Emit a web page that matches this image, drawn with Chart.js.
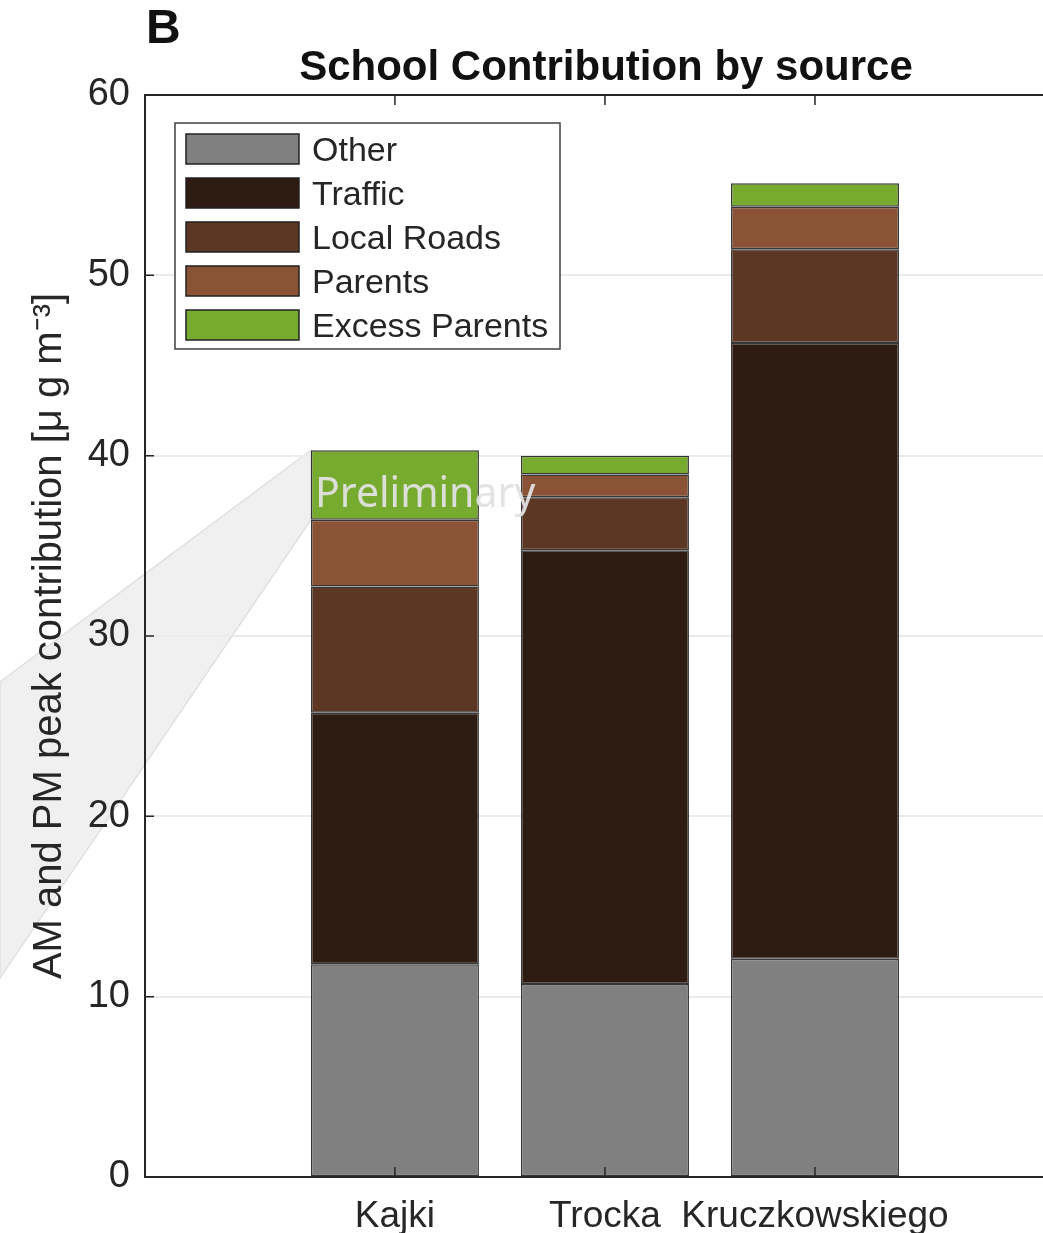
<!DOCTYPE html>
<html><head><meta charset="utf-8">
<script src="https://cdn.jsdelivr.net/npm/chart.js@4/dist/chart.umd.min.js"></script>
<style>html,body{margin:0;padding:0;overflow:hidden;background:#fff;width:1043px;height:1233px}</style>
</head><body>
<canvas id="c" width="1080" height="1233" style="display:block;width:1080px;height:1233px"></canvas>
<script>
const categories = ['Kajki', 'Trocka', 'Kruczkowskiego'];
const categoryPositions = [1, 2, 3];
const seriesNames = ['Other', 'Traffic', 'Local Roads', 'Parents', 'Excess Parents'];
const other = [11.8, 10.7, 12.1];
const traffic = [13.95, 24.05, 34.15];
const localRoads = [7.0, 2.95, 5.2];
const parents = [3.7, 1.25, 2.35];
const excessParents = [3.85, 1.05, 1.3];
const yTicks = [0, 10, 20, 30, 40, 50, 60];
const seriesColors = ['#808080', '#2e1b12', '#5c3824', '#8a5335', '#77ab2f'];

const FONT = '"Liberation Sans", Arial, Helvetica, sans-serif';
const TXT = '#262626';
const seriesValues = [other, traffic, localRoads, parents, excessParents];

const datasets = seriesNames.map((name, s) => ({
  label: name,
  data: categoryPositions.map((x, i) => ({ x: x, y: seriesValues[s][i] })),
  backgroundColor: seriesColors[s],
  borderColor: 'rgba(20,20,20,0.85)',
  borderWidth: 1.5,
  borderSkipped: false,
  barPercentage: 0.8,
  categoryPercentage: 1.0
}));

const decor = {
  id: 'decor',
  beforeDraw(chart) {
    const ctx = chart.ctx;
    ctx.save();
    ctx.fillStyle = '#fff';
    ctx.fillRect(0, 0, chart.width, chart.height);
    // callout polygon toward the Excess Parents segment of the first bar
    const el = chart.getDatasetMeta(4).data[0];
    const bx = el.x - el.width / 2;
    ctx.beginPath();
    ctx.moveTo(0, 682);
    ctx.lineTo(bx, el.y);
    ctx.lineTo(bx, el.base);
    ctx.lineTo(0, 978);
    ctx.closePath();
    ctx.fillStyle = '#f0f0f0';
    ctx.fill();
    ctx.strokeStyle = '#e0e0e0';
    ctx.lineWidth = 1.5;
    ctx.stroke();
    ctx.restore();
  },
  afterDatasetsDraw(chart) {
    const ctx = chart.ctx;
    const a = chart.chartArea;
    const xs = chart.scales.x, ys = chart.scales.y;
    ctx.save();
    // axes box
    ctx.strokeStyle = '#262626';
    ctx.lineWidth = 2;
    ctx.strokeRect(a.left, a.top, a.right - a.left, a.bottom - a.top);
    // inward ticks
    ctx.lineWidth = 1.5;
    ctx.beginPath();
    yTicks.forEach(v => {
      const py = ys.getPixelForValue(v);
      ctx.moveTo(a.left, py); ctx.lineTo(a.left + 9, py);
    });
    categoryPositions.forEach(v => {
      const px = xs.getPixelForValue(v);
      ctx.moveTo(px, a.bottom); ctx.lineTo(px, a.bottom - 10);
      ctx.moveTo(px, a.top); ctx.lineTo(px, a.top + 10);
    });
    ctx.stroke();
    // Preliminary watermark
    ctx.font = '41px "Noto Sans", "Open Sans", sans-serif';
    ctx.fillStyle = 'rgba(225,225,225,0.95)';
    ctx.textBaseline = 'alphabetic';
    ctx.textAlign = 'left';
    ctx.fillText('Preliminary', 315, 507);
    // legend
    const lx = a.left + 30, ly = a.top + 28, lw = 385, lh = 226;
    ctx.fillStyle = '#fff';
    ctx.fillRect(lx, ly, lw, lh);
    ctx.strokeStyle = '#404040';
    ctx.lineWidth = 1.5;
    ctx.strokeRect(lx, ly, lw, lh);
    ctx.font = '34px ' + FONT;
    ctx.textBaseline = 'middle';
    chart.data.datasets.forEach((ds, i) => {
      const sy = ly + 11 + i * 44;
      ctx.fillStyle = ds.backgroundColor;
      ctx.fillRect(lx + 11, sy, 113, 30);
      ctx.strokeStyle = '#222';
      ctx.strokeRect(lx + 11, sy, 113, 30);
      ctx.fillStyle = TXT;
      ctx.fillText(ds.label, lx + 137, sy + 18);
    });
    ctx.restore();
  },
  afterDraw(chart) {
    const ctx = chart.ctx;
    const a = chart.chartArea;
    ctx.save();
    ctx.fillStyle = '#111';
    ctx.textBaseline = 'alphabetic';
    ctx.textAlign = 'center';
    ctx.font = 'bold 42px ' + FONT;
    ctx.fillText('School Contribution by source', (a.left + a.right) / 2, 80);
    ctx.textAlign = 'left';
    ctx.font = 'bold 48px ' + FONT;
    ctx.fillText('B', 146, 43);
    ctx.restore();
  }
};

new Chart(document.getElementById('c'), {
  type: 'bar',
  data: { datasets: datasets },
  options: {
    responsive: false,
    animation: false,
    devicePixelRatio: 1,
    layout: { padding: { left: 0, top: 95, right: 13, bottom: 0 } },
    plugins: { legend: { display: false }, title: { display: false }, tooltip: { enabled: false } },
    scales: {
      x: {
        type: 'linear',
        stacked: true,
        min: -0.19,
        max: 4.2,
        offset: false,
        afterBuildTicks: (s) => { s.ticks = categoryPositions.map(v => ({ value: v })); },
        afterFit: (s) => { s.height = 56; },
        grid: { display: false },
        border: { display: false },
        ticks: {
          autoSkip: false,
          maxRotation: 0,
          padding: 10,
          color: TXT,
          font: { family: FONT, size: 37 },
          callback: (v) => categories[categoryPositions.indexOf(v)] || ''
        }
      },
      y: {
        stacked: true,
        min: 0,
        max: 60,
        afterBuildTicks: (s) => { s.ticks = yTicks.map(v => ({ value: v })); },
        afterFit: (s) => { s.width = 145; },
        grid: { color: '#ebebeb', lineWidth: 2, drawTicks: false },
        border: { display: false },
        ticks: { padding: 15, color: TXT, font: { family: FONT, size: 38 } },
        title: {
          display: true,
          text: 'AM and PM peak contribution [μ g m⁻³]',
          color: TXT,
          font: { family: FONT, size: 40, weight: 'normal' },
          padding: { top: 26, bottom: 0 }
        }
      }
    }
  },
  plugins: [decor]
});
</script>
</body></html>
